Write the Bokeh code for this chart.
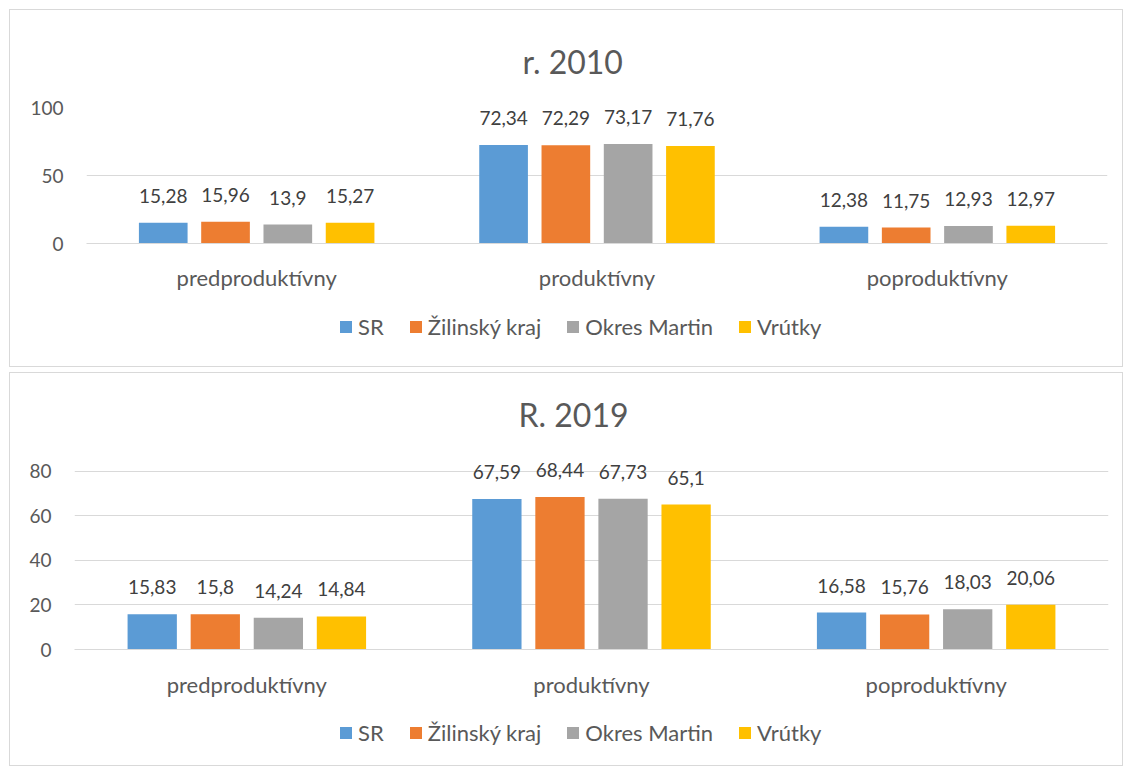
from bokeh.plotting import figure
from bokeh.models import (ColumnDataSource, FactorRange, Range1d, LabelSet, Legend,
                          LegendItem, Title, FixedTicker, Spacer)
from bokeh.transform import dodge
from bokeh.layouts import column, row
from bokeh.core.properties import value
from bokeh.embed import file_html
from bokeh.resources import INLINE

# ---------------- data ----------------
categories = ["predproduktívny", "produktívny", "poproduktívny"]
series_names = ["SR", "Žilinský kraj", "Okres Martin", "Vrútky"]
series_colors = ["#5B9BD5", "#ED7D31", "#A5A5A5", "#FFC000"]

sr_2010 = [15.28, 72.34, 12.38]
zk_2010 = [15.96, 72.29, 11.75]
om_2010 = [13.9, 73.17, 12.93]
vr_2010 = [15.27, 71.76, 12.97]

sr_2019 = [15.83, 67.59, 16.58]
zk_2019 = [15.8, 68.44, 15.76]
om_2019 = [14.24, 67.73, 18.03]
vr_2019 = [14.84, 65.1, 20.06]

ticks_2010 = [0, 50, 100]
ticks_2019 = [0, 20, 40, 60, 80]

FONT = "Lato"
AXIS_COLOR = "#595959"
GRID_COLOR = "#D9D9D9"
W = 1112


def fmt(v):
    return "{:g}".format(v).replace(".", ",")


def make_chart(title, series, yend, ticks, height, left, right, top, bottom,
               title_standoff, title_offset, xlab_standoff):
    p = figure(x_range=FactorRange(*categories), y_range=Range1d(0, yend),
               width=W, height=height, output_backend="svg", toolbar_location=None,
               min_border_left=left, min_border_right=right,
               min_border_top=top, min_border_bottom=bottom)
    p.outline_line_color = None
    p.background_fill_color = "white"
    p.border_fill_color = "white"

    p.title = Title(text=title, align="left", offset=title_offset,
                    text_font=FONT, text_font_size="32px",
                    text_color=AXIS_COLOR, text_font_style="normal",
                    standoff=title_standoff)

    step = 0.183
    width = 0.143
    offsets = [-1.5 * step, -0.5 * step, 0.5 * step, 1.5 * step]
    for name, vals, color, off in zip(series_names, series, series_colors, offsets):
        src = ColumnDataSource(dict(x=categories, y=vals, lab=[fmt(v) for v in vals]))
        p.vbar(x=dodge("x", off, range=p.x_range), top="y", width=width, source=src,
               fill_color=color, line_color=None)
        lbl = LabelSet(x=dodge("x", off, range=p.x_range), y="y", text="lab", source=src,
                       text_align="center", text_baseline="middle", y_offset=27,
                       text_font=value(FONT), text_font_size="19px", text_color="#404040")
        p.add_layout(lbl)

    p.yaxis.ticker = FixedTicker(ticks=ticks)
    p.yaxis.axis_line_color = None
    p.yaxis.major_tick_line_color = None
    p.yaxis.minor_tick_line_color = None
    p.yaxis.major_label_standoff = 17
    p.yaxis.major_label_text_font = FONT
    p.yaxis.major_label_text_font_size = "19px"
    p.yaxis.major_label_text_color = AXIS_COLOR

    p.xaxis.axis_line_color = GRID_COLOR
    p.xaxis.major_tick_line_color = None
    p.xaxis.minor_tick_line_color = None
    p.xaxis.major_label_standoff = xlab_standoff
    p.xaxis.major_label_text_font = FONT
    p.xaxis.major_label_text_font_size = "22px"
    p.xaxis.major_label_text_color = AXIS_COLOR

    p.xgrid.grid_line_color = None
    p.ygrid.grid_line_color = GRID_COLOR
    p.ygrid.ticker = FixedTicker(ticks=ticks)
    return p


def make_legend(height, lx, ly):
    p = figure(width=W, height=height, x_range=Range1d(0, 1), y_range=Range1d(0, 1),
               output_backend="svg", toolbar_location=None,
               x_axis_type=None, y_axis_type=None, min_border=0)
    p.outline_line_color = None
    p.xgrid.grid_line_color = None
    p.ygrid.grid_line_color = None
    items = []
    for name, color in zip(series_names, series_colors):
        # legend swatch only: a zero-height bar placed outside the visible range
        r = p.vbar(x=[-10], top=[0], width=0.1, fill_color=color, line_color=None)
        items.append(LegendItem(label=name, renderers=[r]))
    legend = Legend(items=items, orientation="horizontal", location=(lx, ly),
                    label_text_font=FONT, label_text_font_size="22px",
                    label_text_color=AXIS_COLOR, glyph_width=15, glyph_height=15,
                    spacing=24, label_standoff=5, border_line_color=None,
                    background_fill_alpha=0, padding=0, margin=0)
    p.add_layout(legend, "center")
    return p


c1 = make_chart("r. 2010", [sr_2010, zk_2010, om_2010, vr_2010], 100, ticks_2010,
                height=290, left=76, right=15, top=97, bottom=57,
                title_standoff=54, title_offset=436, xlab_standoff=14)
l1 = make_legend(66, 252, 26)
c2 = make_chart("R. 2019", [sr_2019, zk_2019, om_2019, vr_2019], 88, ticks_2019,
                height=327, left=64, right=14, top=80, bottom=51,
                title_standoff=39, title_offset=444, xlab_standoff=15)
l2 = make_legend(65, 264, 19)

box1 = column(c1, l1, spacing=0)
box1.styles = {"border": "1px solid #D9D9D9"}
box2 = column(c2, l2, spacing=0)
box2.styles = {"border": "1px solid #D9D9D9"}

layout = row(Spacer(width=5, height=10),
             column(Spacer(width=10, height=4), box1, box2, spacing=5),
             spacing=4)
open("out.html", "w").write(file_html(layout, INLINE))
